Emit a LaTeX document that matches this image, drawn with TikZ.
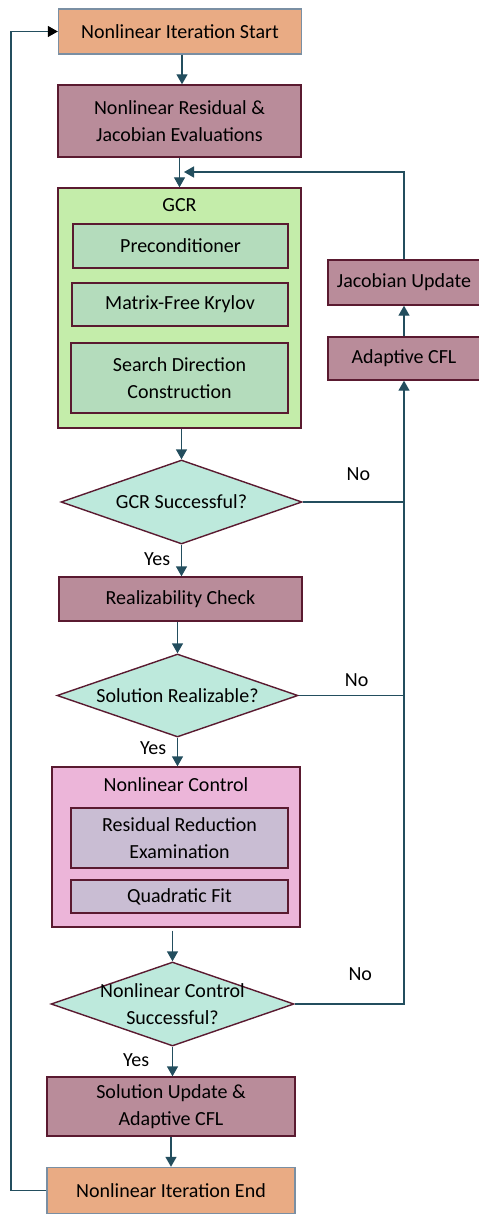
\documentclass[tikz,border=0pt]{standalone}
\usepackage{fontspec}
\setmainfont{Carlito}
\usetikzlibrary{shapes.geometric,arrows.meta,positioning}

\definecolor{termfill}{HTML}{E9AB84}
\definecolor{termline}{HTML}{7A8FA3}
\definecolor{procfill}{HTML}{B98C9A}
\definecolor{boxline}{HTML}{5A1A30}
\definecolor{gcrfill}{HTML}{C4EDAA}
\definecolor{gcrsub}{HTML}{B4DCBC}
\definecolor{ctrlfill}{HTML}{ECB5D9}
\definecolor{ctrlsub}{HTML}{C9BDD3}
\definecolor{decfill}{HTML}{BDE9DC}
\definecolor{flowline}{HTML}{234E5E}

\begin{document}
\begin{tikzpicture}[x=0.5pt, y=-0.5pt, font=\fontsize{10}{13.5}\selectfont,
	term/.style={draw=termline, fill=termfill, line width=0.7pt, align=center},
	proc/.style={draw=boxline, fill=procfill, line width=0.7pt, align=center},
	group/.style={draw=boxline, line width=0.7pt},
	inner/.style={draw=boxline, line width=0.7pt, align=center},
	decision/.style={diamond, draw=boxline, fill=decfill, line width=0.7pt, inner sep=0pt},
	flow/.style={draw=flowline, line width=0.7pt, -{Triangle[length=5pt,width=5.5pt]}},
	link/.style={draw=flowline, line width=0.7pt}]
\useasboundingbox (0,0) rectangle (478,1214);

% main column
\node[term, minimum width=121.5pt, minimum height=22.5pt] (start) at (180,31.5) {Nonlinear Iteration Start};
\node[proc, minimum width=121.5pt, minimum height=36pt] (resid) at (179.5,121) {Nonlinear Residual \&\\Jacobian Evaluations};

\node[group, fill=gcrfill, minimum width=121.5pt, minimum height=120pt,
	label={[anchor=north,yshift=-2pt]north:GCR}] (gcr) at (179.5,308) {};
\node[inner, fill=gcrsub, minimum width=107.5pt, minimum height=22pt] (precond) at (180.5,246) {Preconditioner};
\node[inner, fill=gcrsub, minimum width=108pt, minimum height=21.5pt] (krylov) at (180,304.5) {Matrix-Free Krylov};
\node[inner, fill=gcrsub, minimum width=108.5pt, minimum height=35pt] (search) at (179.5,378) {Search Direction\\Construction};

\node[decision, minimum width=120.5pt, minimum height=42pt,
	label={[align=center]center:GCR Successful?}] (gcrok) at (181.5,502) {};
\node[proc, minimum width=121.5pt, minimum height=22pt] (realiz) at (180.5,599) {Realizability Check};
\node[decision, minimum width=120.5pt, minimum height=41.5pt,
	label={[align=center]center:Solution Realizable?}] (realok) at (177.5,695.5) {};

\node[group, fill=ctrlfill, minimum width=124pt, minimum height=80pt,
	label={[anchor=north,yshift=-2pt]north:Nonlinear Control}] (ctrl) at (176,847) {};
\node[inner, fill=ctrlsub, minimum width=108.5pt, minimum height=30pt] (reduce) at (179.5,838) {Residual Reduction\\Examination};
\node[inner, fill=ctrlsub, minimum width=108.5pt, minimum height=16.5pt] (quadfit) at (179.5,896.5) {Quadratic Fit};

\node[decision, minimum width=121.5pt, minimum height=42pt,
	label={[align=center]center:Nonlinear Control\\Successful?}] (ctrlok) at (172.5,1004) {};
\node[proc, minimum width=124pt, minimum height=29.5pt] (update) at (171,1106.5) {Solution Update \&\\Adaptive CFL};
\node[term, minimum width=124pt, minimum height=23pt] (stop) at (171,1190.5) {Nonlinear Iteration End};

% right column
\node[proc, minimum width=76pt, minimum height=21.5pt] (cfl) at (404,358.5) {Adaptive CFL};
\node[proc, minimum width=76pt, minimum height=22.5pt] (jacob) at (404,282.5) {Jacobian Update};

\coordinate (loopin) at (184,172);
\coordinate (leftrail) at (11,600);

\draw[flow] ([xshift=1pt]start.south) -- ([xshift=1pt]start.south |- resid.north);
\draw[flow] (resid.south) -- (gcr.north);
\draw[flow] (gcr.south -| gcrok.north) -- (gcrok.north);
\draw[flow] (gcrok.south) -- node[pos=0.45, left=2pt] {Yes} (realiz.north -| gcrok.south);
\draw[flow] (realiz.south -| realok.north) -- (realok.north);
\draw[flow] (realok.south) -- node[pos=0.35, left=2pt] {Yes} (ctrl.north -| realok.south);
\draw[flow] ([yshift=-1.5pt]ctrl.south -| ctrlok.north) -- (ctrlok.north);
\draw[flow] (ctrlok.south) -- node[pos=0.45, left=8pt] {Yes} (update.north -| ctrlok.south);
\draw[flow] (update.south) -- (stop.north);

\draw[link] (gcrok.east) -- node[pos=0.55, above=7pt] {No} (gcrok.east -| cfl.south);
\draw[link] (realok.east) -- node[pos=0.55, above=1pt] {No} (realok.east -| cfl.south);
\draw[flow] (ctrlok.east) -| node[pos=0.3, above=8pt] {No} (cfl.south);
\draw[flow] (cfl.north) -- (jacob.south);
\draw[flow] (jacob.north) |- (loopin);

\draw[link, -{Triangle[length=5pt,width=5.5pt,color=black]}] (stop.west) -| (leftrail) |- (start.west);
\end{tikzpicture}
\end{document}
